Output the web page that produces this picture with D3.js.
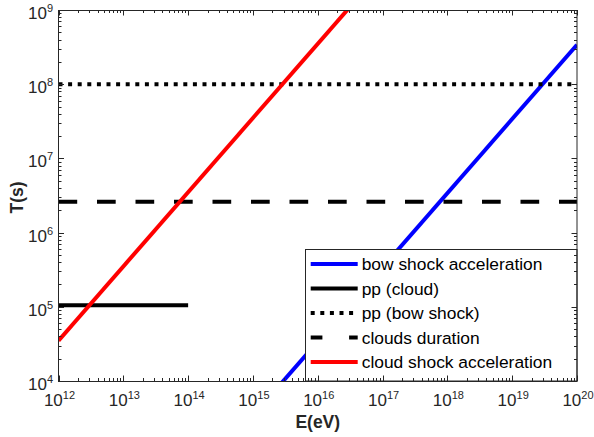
<!DOCTYPE html>
<html>
<head>
<meta charset="utf-8">
<script src="https://cdn.jsdelivr.net/npm/d3@7"></script>
<style>
  html, body { margin: 0; padding: 0; background: #fff; }
  svg { display: block; font-family: "Liberation Sans", Arial, Helvetica, sans-serif; }
</style>
</head>
<body>
<div id="chart"></div>
<script>
// ---- data ----
const xTickExponents = [12, 13, 14, 15, 16, 17, 18, 19, 20];
const yTickExponents = [4, 5, 6, 7, 8, 9];

const seriesNames = ["bow shock acceleration", "pp (cloud)", "pp (bow shock)", "clouds duration", "cloud shock acceleration"];

const bowShockE = [1e15, 1e20];
const bowShockT = [3.4e3, 3.4e8];

const ppCloudE = [1e12, 1e14];
const ppCloudT = [1.05e5, 1.05e5];

const ppBowE = [1e12, 1e20];
const ppBowT = [1e8, 1e8];

const cloudsDurationE = [1e12, 1e20];
const cloudsDurationT = [2.6e6, 2.6e6];

const cloudShockE = [1e12, 1e17];
const cloudShockT = [3.5e4, 3.5e9];

// ---- layout ----
const W = 594, H = 437;
const x0 = 58.5, x1 = 577, y0 = 10, y1 = 381;
const axisColor = "#262626";

const svg = d3.select("#chart").append("svg").attr("width", W).attr("height", H);

const x = d3.scaleLog().domain([1e12, 1e20]).range([x0, x1]);
const y = d3.scaleLog().domain([1e4, 1e9]).range([y1, y0]);

svg.append("defs").append("clipPath").attr("id", "plotclip")
  .append("rect").attr("x", x0).attr("y", y0).attr("width", x1 - x0).attr("height", y1 - y0);

const series = [
  { name: seriesNames[0], E: bowShockE, T: bowShockT, color: "#0000ff", dash: null },
  { name: seriesNames[1], E: ppCloudE, T: ppCloudT, color: "#000000", dash: null },
  { name: seriesNames[2], E: ppBowE, T: ppBowT, color: "#000000", dash: "4,5.6", legendDash: "4,5.6" },
  { name: seriesNames[3], E: cloudsDurationE, T: cloudsDurationT, color: "#000000", dash: "18.7,19.8", legendDash: "11.7,26.7,8.6" },
  { name: seriesNames[4], E: cloudShockE, T: cloudShockT, color: "#ff0000", dash: null }
];

const line = d3.line().x(d => x(d[0])).y(d => y(d[1]));

const plot = svg.append("g").attr("clip-path", "url(#plotclip)");
series.forEach(s => {
  plot.append("path")
    .datum(s.E.map((e, i) => [e, s.T[i]]))
    .attr("d", line)
    .attr("fill", "none")
    .attr("stroke", s.color)
    .attr("stroke-width", 4)
    .attr("stroke-dasharray", s.dash);
});

// ---- legend ----
const lg = svg.append("g");
const lgLeft = 305.5, lgTop = 249.5, lgRight = x1, lgBottom = y1;
lg.append("rect")
  .attr("x", lgLeft).attr("y", lgTop)
  .attr("width", lgRight - lgLeft).attr("height", lgBottom - lgTop)
  .attr("fill", "#fff").attr("stroke", axisColor).attr("stroke-width", 1);
const rowY = d3.scaleLinear().domain([0, 4]).range([264, 362]);
series.forEach((s, i) => {
  const cy = rowY(i);
  lg.append("line")
    .attr("x1", 310.7).attr("x2", 357.7).attr("y1", cy).attr("y2", cy)
    .attr("stroke", s.color).attr("stroke-width", 4)
    .attr("stroke-dasharray", s.legendDash || null);
  lg.append("text")
    .attr("x", 361.7).attr("y", cy + 6)
    .attr("font-size", 17.4).attr("fill", "#000")
    .text(s.name);
});

// ---- axes (box with inward ticks) ----
const ax = svg.append("g");
ax.append("rect").attr("x", x0).attr("y", y0 + 0.5).attr("width", x1 - x0).attr("height", y1 - y0)
  .attr("fill", "none").attr("stroke", axisColor).attr("stroke-width", 1);

const xMinor = [];
xTickExponents.slice(0, -1).forEach(e => { for (let m = 2; m <= 9; m++) xMinor.push(m * Math.pow(10, e)); });
const yMinor = [];
yTickExponents.slice(0, -1).forEach(e => { for (let m = 2; m <= 9; m++) yMinor.push(m * Math.pow(10, e)); });

function xTicks(vals, len) {
  vals.forEach(v => {
    const px = Math.round(x(v)) + 0.5;
    ax.append("line").attr("x1", px).attr("x2", px).attr("y1", y1).attr("y2", y1 - len).attr("stroke", axisColor);
    ax.append("line").attr("x1", px).attr("x2", px).attr("y1", y0).attr("y2", y0 + len).attr("stroke", axisColor);
  });
}
function yTicks(vals, len) {
  vals.forEach(v => {
    const py = Math.round(y(v)) + 0.5;
    ax.append("line").attr("x1", x0).attr("x2", x0 + len).attr("y1", py).attr("y2", py).attr("stroke", axisColor);
    ax.append("line").attr("x1", x1).attr("x2", x1 - len).attr("y1", py).attr("y2", py).attr("stroke", axisColor);
  });
}
xTicks(xTickExponents.map(e => Math.pow(10, e)), 5.5);
xTicks(xMinor, 3);
yTicks(yTickExponents.map(e => Math.pow(10, e)), 5.5);
yTicks(yMinor, 3);

// tick labels
xTickExponents.forEach(e => {
  const t = ax.append("text")
    .attr("x", x(Math.pow(10, e)) + 1).attr("y", 406)
    .attr("text-anchor", "middle").attr("fill", axisColor).attr("font-size", 17);
  t.append("tspan").text("10");
  t.append("tspan").attr("font-size", 11).attr("dy", -7).text(String(e));
});
yTickExponents.forEach(e => {
  const t = ax.append("text")
    .attr("x", 53).attr("y", y(Math.pow(10, e)) + 9)
    .attr("text-anchor", "end").attr("fill", axisColor).attr("font-size", 17);
  t.append("tspan").text("10");
  t.append("tspan").attr("font-size", 11).attr("dy", -7).text(String(e));
});

// axis titles
ax.append("text")
  .attr("x", (x0 + x1) / 2).attr("y", 428)
  .attr("text-anchor", "middle").attr("font-weight", "bold").attr("font-size", 17.5)
  .attr("fill", axisColor).text("E(eV)");
ax.append("text")
  .attr("transform", `translate(22.5,${(y0 + y1) / 2 + 2}) rotate(-90)`)
  .attr("text-anchor", "middle").attr("font-weight", "bold").attr("font-size", 17.5)
  .attr("fill", axisColor).text("T(s)");
</script>
</body>
</html>
